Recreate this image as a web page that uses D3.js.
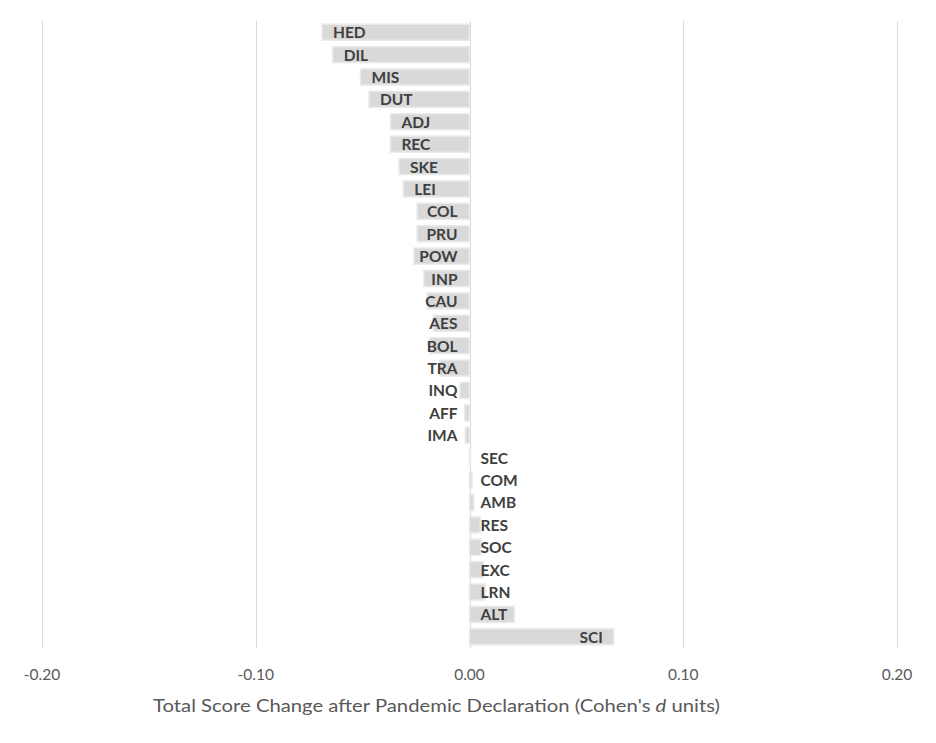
<!DOCTYPE html>
<html>
<head>
<meta charset="utf-8">
<script src="https://cdn.jsdelivr.net/npm/d3@7"></script>
<style>
  html, body { margin: 0; padding: 0; background: #ffffff; }
  svg { display: block; }
</style>
</head>
<body>
<svg id="chart" width="936" height="743"></svg>
<script>
const categories = ["HED","DIL","MIS","DUT","ADJ","REC","SKE","LEI","COL","PRU","POW","INP","CAU","AES","BOL","TRA","INQ","AFF","IMA","SEC","COM","AMB","RES","SOC","EXC","LRN","ALT","SCI"];
const values = [-0.069,-0.064,-0.051,-0.047,-0.037,-0.037,-0.033,-0.031,-0.0245,-0.0245,-0.026,-0.0214,-0.0197,-0.017,-0.0187,-0.014,-0.0045,-0.0023,-0.002,0.0004,0.0012,0.002,0.005,0.0055,0.0065,0.0073,0.021,0.0675];
const tickValues = [-0.2,-0.1,0,0.1,0.2];
const axisTitle = "Total Score Change after Pandemic Declaration (Cohen's ";
const axisTitleItalic = "d";
const axisTitleEnd = " units)";

const data = categories.map((c, i) => ({ cat: c, val: values[i] }));

const svg = d3.select("#chart");
const plotTop = 21, plotBottom = 648;
const x = d3.scaleLinear().domain([-0.2, 0.2]).range([42, 897]);
const y = d3.scaleBand().domain(categories).range([plotTop, plotBottom]).paddingInner(0.28).paddingOuter(0.14);

// gridlines
svg.append("g").selectAll("line").data(tickValues).join("line")
  .attr("x1", d => Math.round(x(d)) + 0.5).attr("x2", d => Math.round(x(d)) + 0.5)
  .attr("y1", plotTop).attr("y2", plotBottom)
  .attr("stroke", "#d9d9d9").attr("stroke-width", 1);

// bars
svg.append("g").selectAll("rect").data(data).join("rect")
  .attr("x", d => x(Math.min(0, d.val)))
  .attr("y", d => y(d.cat))
  .attr("width", d => Math.abs(x(d.val) - x(0)))
  .attr("height", y.bandwidth())
  .attr("fill", "#d9d9d9")
  .attr("stroke", "#ebebeb")
  .attr("stroke-width", 1.5);

// labels
const fontFam = "Lato, 'Open Sans', sans-serif";
const lbl = svg.append("g").selectAll("text").data(data).join("text")
  .attr("font-family", fontFam)
  .attr("font-weight", "bold")
  .attr("font-size", 15.5)
  .attr("fill", "#404040")
  .attr("dominant-baseline", "central")
  .attr("y", d => y(d.cat) + y.bandwidth() / 2)
  .text(d => d.cat);

lbl.each(function(d) {
  const w = this.getComputedTextLength();
  const z = x(0);
  const sel = d3.select(this);
  if (d.val < 0) {
    let left = x(d.val) + 11;
    if (left + w > z - 12) left = z - 12 - w;
    sel.attr("x", left);
  } else {
    let right = x(d.val) - 11;
    let left = right - w;
    if (left < z + 11) left = z + 11;
    sel.attr("x", left);
  }
});

// tick labels
svg.append("g").selectAll("text").data(tickValues).join("text")
  .attr("x", d => x(d))
  .attr("y", 680)
  .attr("text-anchor", "middle")
  .attr("font-family", fontFam)
  .attr("font-size", 15.5)
  .attr("fill", "#595959")
  .text(d => d3.format(".2f")(d).replace("\u2212", "-"));

// axis title
const t = svg.append("text")
  .attr("x", 153)
  .attr("y", 712)
  .attr("textLength", 567)
  .attr("lengthAdjust", "spacingAndGlyphs")
  .attr("font-family", fontFam)
  .attr("font-size", 17.5)
  .attr("fill", "#595959");
t.append("tspan").text(axisTitle);
t.append("tspan").attr("font-style", "italic").text(axisTitleItalic);
t.append("tspan").text(axisTitleEnd);
</script>
</body>
</html>
